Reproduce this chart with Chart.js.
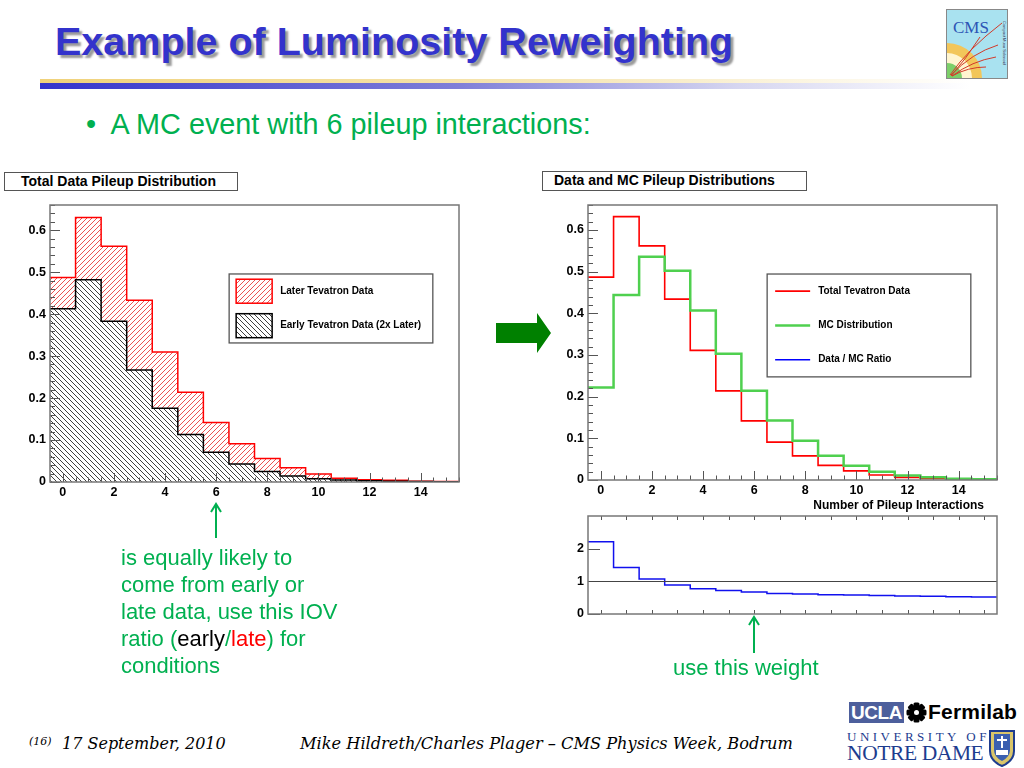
<!DOCTYPE html>
<html>
<head>
<meta charset="utf-8">
<script src="https://cdn.jsdelivr.net/npm/chart.js@4"></script>
<style>
  body { margin: 0; background: #fff; }
  #slide { position: relative; width: 1024px; height: 768px; overflow: hidden; font-family: 'Liberation Sans', Arial, sans-serif; }
  .abs { position: absolute; white-space: nowrap; }
  #title { left: 55px; top: 19px; font: bold 39.5px 'Liberation Sans', Arial, sans-serif; color: #3333cc; text-shadow: 3px 3px 2px #9a9a9a; }
  #barY { left: 40px; top: 79px; width: 930px; height: 4px; background: linear-gradient(to right, #f0d27a, #f6e6b4 55%, rgba(255,255,255,0)); }
  #barB { left: 40px; top: 83px; width: 930px; height: 6px; background: linear-gradient(to right, #3333cc, #7f7fd8 45%, #d6d6f0 75%, rgba(255,255,255,0)); }
  #bullet { left: 86px; top: 108px; font-size: 28.8px; color: #00b050; }
  .boxTitle { border: 1.5px solid #555; font: bold 14px 'Liberation Sans', Arial, sans-serif; color: #000; box-sizing: border-box; line-height: 16px; }
  .note { color: #00b050; font-size: 22px; line-height: 27px; }
  canvas { position: absolute; }
  .foot { font-family: 'DejaVu Serif', serif; font-style: italic; color: #000; }
</style>
</head>
<body>
<div id="slide">
  <div id="title" class="abs">Example of Luminosity Reweighting</div>
  <div id="barY" class="abs"></div>
  <div id="barB" class="abs"></div>
  <svg class="abs" style="left:946px;top:9px" width="62" height="70" viewBox="0 0 62 70">
    <rect x="0.5" y="0.5" width="61" height="69" fill="#a9e2f0" stroke="#888"/>
    <path d="M1 69 L1 34 A35 35 0 0 1 36 69 Z" fill="#f2c65a"/>
    <path d="M1 69 L1 44 A25 25 0 0 1 26 69 Z" fill="#fff5d0"/>
    <path d="M1 69 L1 54 A15 15 0 0 1 16 69 Z" fill="#7ccf6a"/>
    <text x="7" y="24" font-family="Liberation Serif, serif" font-size="17" fill="#2d55b5">CMS</text>
    <g fill="none" stroke="#d23a2a" stroke-width="1">
      <path d="M4 66 Q22 40 56 14"/><path d="M5 66 Q26 44 52 36"/><path d="M6 67 Q26 52 50 48"/><path d="M6 67 Q22 58 40 58"/><path d="M5 67 Q20 50 34 28"/>
    </g>
    <text x="57" y="12" font-size="4" fill="#335" transform="rotate(90 57 12)">Compact Muon Solenoid</text>
  </svg>
  <div id="bullet" class="abs">•&nbsp; A MC event with 6 pileup interactions:</div>

  <div class="abs boxTitle" style="left:4px;top:172px;width:234px;height:19px;padding-left:16px">Total Data Pileup Distribution</div>
  <div class="abs boxTitle" style="left:542px;top:171px;width:265px;height:20px;padding-left:11px;line-height:17px">Data and MC Pileup Distributions</div>

  <canvas id="leftChart" width="470" height="310" style="left:0;top:195px"></canvas>
  <canvas id="rightChart" width="494" height="325" style="left:530px;top:195px"></canvas>
  <canvas id="ratioChart" width="494" height="115" style="left:530px;top:510px"></canvas>

  <!-- big green arrow between the plots -->
  <svg class="abs" style="left:494px;top:311px" width="60" height="44">
    <path d="M2 12 L43 12 L43 2 L57 22 L43 42 L43 32 L2 32 Z" fill="#008000"/>
  </svg>

  <!-- small annotation arrows -->
  <svg class="abs" style="left:208px;top:502px" width="16" height="38">
    <line x1="8" y1="4" x2="8" y2="36" stroke="#00b050" stroke-width="2"/>
    <path d="M3 10 L8 2 L13 10" fill="none" stroke="#00b050" stroke-width="2"/>
  </svg>
  <svg class="abs" style="left:746px;top:615px" width="16" height="40">
    <line x1="8" y1="4" x2="8" y2="38" stroke="#00b050" stroke-width="2"/>
    <path d="M3 10 L8 2 L13 10" fill="none" stroke="#00b050" stroke-width="2"/>
  </svg>

  <div class="abs note" style="left:121px;top:544px">is equally likely to<br>come from early or<br>late data, use this IOV<br>ratio (<span style="color:#000">early</span>/<span style="color:#ff0000">late</span>) for<br>conditions</div>
  <div class="abs note" style="left:673px;top:654px">use this weight</div>

  <!-- footer -->
  <div class="abs foot" style="left:29px;top:735px;font-size:11px">(16)</div>
  <div class="abs foot" style="left:62px;top:734px;font-size:16px">17 September, 2010</div>
  <div class="abs foot" style="left:300px;top:734px;font-size:16.2px">Mike Hildreth/Charles Plager – CMS Physics Week, Bodrum</div>

  <!-- institution logos -->
  <div class="abs" style="left:849px;top:702px;width:55px;height:21px;background:#4d5f9c;color:#fff;font:bold 19px 'Liberation Sans',Arial;line-height:21px;text-align:center;letter-spacing:-0.5px">UCLA</div>
  <svg class="abs" style="left:906px;top:702px" width="21" height="21" viewBox="0 0 21 21">
    <g fill="#000">
      <rect x="7.5" y="0.5" width="6" height="20" rx="1.5"/><rect x="0.5" y="7.5" width="20" height="6" rx="1.5"/>
      <rect x="7.5" y="0.5" width="6" height="20" rx="1.5" transform="rotate(45 10.5 10.5)"/><rect x="0.5" y="7.5" width="20" height="6" rx="1.5" transform="rotate(45 10.5 10.5)"/>
    </g>
    <circle cx="10.5" cy="10.5" r="2.5" fill="#fff"/>
  </svg>
  <div class="abs" style="left:928px;top:700px;font:bold 21px 'Liberation Sans',Arial;color:#000;letter-spacing:0.2px">Fermilab</div>
  <div class="abs" style="left:847px;top:729px;font:13px 'Liberation Serif',serif;color:#1d3c8f;letter-spacing:3.5px">UNIVERSITY OF</div>
  <div class="abs" style="left:847px;top:741px;font:21.5px 'Liberation Serif',serif;color:#1d3c8f;letter-spacing:-0.4px">NOTRE DAME</div>
  <svg class="abs" style="left:988px;top:729px" width="28" height="38" viewBox="0 0 28 38">
    <path d="M2 2 L26 2 L26 22 Q26 32 14 37 Q2 32 2 22 Z" fill="#d9c56a" stroke="#1d3c8f" stroke-width="2"/>
    <path d="M6 5 L22 5 L22 21 Q22 28 14 32 Q6 28 6 21 Z" fill="#3a5fb0"/>
    <rect x="13" y="7" width="2" height="12" fill="#fff"/><rect x="9" y="10" width="10" height="2" fill="#fff"/>
    <rect x="8" y="21" width="12" height="5" fill="#fff"/>
  </svg>
</div>

<script>
'use strict';

// ─── Data ────────────────────────────────────────────────
const binCenters = [0, 1, 2, 3, 4, 5, 6, 7, 8, 9, 10, 11, 12, 13, 14, 15];

const laterData = [0.487, 0.630, 0.562, 0.433, 0.310, 0.214, 0.142, 0.091, 0.056, 0.034, 0.019, 0.009, 0.0055, 0.004, 0.002, 0.001];
const earlyData = [0.413, 0.482, 0.383, 0.267, 0.176, 0.113, 0.071, 0.043, 0.025, 0.014, 0.008, 0.005, 0.003, 0.002, 0.001, 0.0005];

const totalData = [0.487, 0.632, 0.562, 0.434, 0.311, 0.214, 0.142, 0.091, 0.058, 0.035, 0.022, 0.012, 0.0064, 0.004, 0.0024, 0.001];
const mcData    = [0.222, 0.444, 0.536, 0.502, 0.407, 0.303, 0.214, 0.143, 0.094, 0.058, 0.034, 0.020, 0.011, 0.0064, 0.0032, 0.0016];
const ratioData = [2.21, 1.42, 1.07, 0.89, 0.77, 0.72, 0.67, 0.63, 0.61, 0.59, 0.58, 0.57, 0.55, 0.54, 0.53, 0.52];

const xTickLabels = [0, 2, 4, 6, 8, 10, 12, 14];
const yTickLabels = [0, 0.1, 0.2, 0.3, 0.4, 0.5, 0.6];
const ratioTickLabels = [0, 1, 2];

const LABEL_LATER = 'Later Tevatron Data';
const LABEL_EARLY = 'Early Tevatron Data (2x Later)';
const LABEL_TOTAL = 'Total Tevatron Data';
const LABEL_MC = 'MC Distribution';
const LABEL_RATIO = 'Data / MC Ratio';
const X_TITLE = 'Number of Pileup Interactions';

// ─── Helpers ─────────────────────────────────────────────
// histogram outline: one point per lower bin edge, plus the last upper edge
function histPoints(vals) {
  const pts = binCenters.map((c, i) => ({ x: c - 0.5, y: vals[i] }));
  pts.push({ x: binCenters[binCenters.length - 1] + 0.5, y: vals[vals.length - 1] });
  return pts;
}

// ROOT-like hatch fill
function hatch(color, forward) {
  const s = 5;
  const c = document.createElement('canvas');
  c.width = c.height = s;
  const g = c.getContext('2d');
  g.fillStyle = '#fff';
  g.fillRect(0, 0, s, s);
  g.strokeStyle = color;
  g.lineWidth = 0.9;
  g.beginPath();
  for (const o of [-s, 0, s]) {
    if (forward) { g.moveTo(o - 1, s + 1); g.lineTo(o + s + 1, -1); }
    else { g.moveTo(o - 1, -1); g.lineTo(o + s + 1, s + 1); }
  }
  g.stroke();
  return g.createPattern(c, 'repeat');
}

const redHatch = hatch('rgba(225,0,0,0.75)', true);
const blackHatch = hatch('#2a2a2a', false);

// ─── Plugins: frame + inward ticks, legend box ───────────
// (configs are closed over, not passed through chart options)
function rootAxes(cfg) {
  return {
    id: 'rootAxes',
    afterDatasetsDraw(chart) {
      const { ctx, chartArea: a, scales: { x, y } } = chart;
      ctx.save();
      ctx.strokeStyle = '#555';
      ctx.lineWidth = 1;
      (cfg.xTicks || []).forEach(t => {
        const n = Math.round((t.to - t.from) / t.step);
        for (let k = 0; k <= n; k++) {
          const px = Math.round(x.getPixelForValue(t.from + k * t.step)) + 0.5;
          ctx.beginPath();
          if (t.side === 'top') { ctx.moveTo(px, a.top); ctx.lineTo(px, a.top + t.len); }
          else { ctx.moveTo(px, a.bottom); ctx.lineTo(px, a.bottom - t.len); }
          ctx.stroke();
        }
      });
      (cfg.yTicks || []).forEach(t => {
        const n = Math.round((t.to - t.from) / t.step);
        for (let k = 0; k <= n; k++) {
          const py = Math.round(y.getPixelForValue(t.from + k * t.step)) + 0.5;
          ctx.beginPath();
          ctx.moveTo(a.left, py);
          ctx.lineTo(a.left + t.len, py);
          ctx.stroke();
        }
      });
      if (cfg.unityLine) {
        const py = Math.round(y.getPixelForValue(1)) + 0.5;
        ctx.strokeStyle = '#444';
        ctx.beginPath(); ctx.moveTo(a.left, py); ctx.lineTo(a.right, py); ctx.stroke();
      }
      if (cfg.xTitle) {
        ctx.fillStyle = '#000';
        ctx.font = "bold 12px 'Liberation Sans', Arial, sans-serif";
        ctx.textAlign = 'right';
        ctx.textBaseline = 'middle';
        ctx.fillText(cfg.xTitle, a.right - 13, a.bottom + 26);
      }
      ctx.strokeStyle = '#777';
      ctx.lineWidth = 1.5;
      ctx.strokeRect(a.left, a.top, a.width, a.height);
      ctx.restore();
    },
  };
}

function rootLegend(cfg) {
  return {
    id: 'rootLegend',
    afterDraw(chart) {
      const { ctx, chartArea: a } = chart;
      const x0 = a.left + cfg.box[0] * a.width, x1 = a.left + cfg.box[1] * a.width;
      const y0 = a.top + cfg.box[2] * a.height, y1 = a.top + cfg.box[3] * a.height;
      ctx.save();
      ctx.fillStyle = '#fff';
      ctx.fillRect(x0, y0, x1 - x0, y1 - y0);
      ctx.strokeStyle = '#555';
      ctx.lineWidth = 1.3;
      ctx.strokeRect(x0, y0, x1 - x0, y1 - y0);
      const rowH = (y1 - y0) / cfg.items.length;
      cfg.items.forEach((it, i) => {
        const cy = y0 + rowH * (i + 0.5);
        if (it.swatch === 'box') {
          ctx.fillStyle = it.pattern;
          ctx.fillRect(x0 + 7, cy - 12, 36, 24);
          ctx.strokeStyle = it.color;
          ctx.lineWidth = 1.5;
          ctx.strokeRect(x0 + 7, cy - 12, 36, 24);
        } else {
          ctx.strokeStyle = it.color;
          ctx.lineWidth = it.lw;
          ctx.beginPath(); ctx.moveTo(x0 + 8, cy); ctx.lineTo(x0 + 43, cy); ctx.stroke();
        }
        ctx.fillStyle = '#000';
        ctx.font = "bold 10px 'Liberation Sans', Arial, sans-serif";
        ctx.textBaseline = 'middle';
        ctx.fillText(it.label, x0 + 51, cy);
      });
      ctx.restore();
    },
  };
}

// ─── Shared scale builders ───────────────────────────────
const tickFont = { family: "'Liberation Sans', Arial, sans-serif", size: 12.5, weight: 'bold' };

function noPad(s) { s.paddingTop = 0; s.paddingBottom = 0; s.paddingLeft = 0; s.paddingRight = 0; }

function xScale(height, showLabels) {
  return {
    type: 'linear', min: -0.5, max: 15.5,
    afterBuildTicks: s => { s.ticks = xTickLabels.map(v => ({ value: v })); },
    afterFit: s => { s.height = height; noPad(s); },
    grid: { display: false, drawTicks: false },
    border: { display: false },
    ticks: { display: showLabels, font: tickFont, color: '#000', padding: 3, maxRotation: 0, autoSkip: false },
  };
}

function yScale(width, max, labels) {
  return {
    min: 0, max: max,
    afterBuildTicks: s => { s.ticks = labels.map(v => ({ value: v })); },
    afterFit: s => { s.width = width; noPad(s); },
    grid: { display: false, drawTicks: false },
    border: { display: false },
    ticks: { font: tickFont, color: '#000', padding: 4, callback: v => String(v) },
  };
}

const mainTicks = {
  xTicks: [
    { from: 0, to: 15.5, step: 0.5, len: 4.5, side: 'bottom' },
    { from: 0, to: 14, step: 2, len: 9, side: 'bottom' },
  ],
  yTicks: [
    { from: 0, to: 0.66, step: 0.02, len: 5 },
    { from: 0, to: 0.6, step: 0.1, len: 10 },
  ],
};

const baseOpts = {
  responsive: false,
  animation: false,
  devicePixelRatio: 1,
  elements: { point: { radius: 0 } },
};

// ─── Left: total data pileup (hatched) ───────────────────
new Chart(document.getElementById('leftChart'), {
  type: 'line',
  data: {
    datasets: [
      { label: LABEL_EARLY, data: histPoints(earlyData), stepped: true, borderColor: '#000', borderWidth: 1.5, backgroundColor: blackHatch, fill: 'origin', order: 0 },
      { label: LABEL_LATER, data: histPoints(laterData), stepped: true, borderColor: '#ff0000', borderWidth: 1.5, backgroundColor: redHatch, fill: 'origin', order: 1 },
    ],
  },
  options: {
    ...baseOpts,
    layout: { padding: { top: 10, right: 11, left: 0, bottom: 0 } },
    scales: { x: xScale(23, true), y: yScale(50, 0.66, yTickLabels) },
    plugins: { legend: { display: false }, tooltip: { enabled: false } },
  },
  plugins: [
    rootAxes(mainTicks),
    rootLegend({
      box: [0.438, 0.936, 0.249, 0.498],
      items: [
        { label: LABEL_LATER, swatch: 'box', color: '#ff0000', pattern: redHatch },
        { label: LABEL_EARLY, swatch: 'box', color: '#000', pattern: blackHatch },
      ],
    }),
  ],
});

// ─── Right: data vs MC ───────────────────────────────────
new Chart(document.getElementById('rightChart'), {
  type: 'line',
  data: {
    datasets: [
      { label: LABEL_MC, data: histPoints(mcData), stepped: true, borderColor: '#4fd04f', borderWidth: 2.5, fill: false, order: 0 },
      { label: LABEL_TOTAL, data: histPoints(totalData), stepped: true, borderColor: '#ff0000', borderWidth: 1.6, fill: false, order: 1 },
    ],
  },
  options: {
    ...baseOpts,
    layout: { padding: { top: 10, right: 27, left: 0, bottom: 0 } },
    scales: { x: xScale(40, true), y: yScale(58, 0.66, yTickLabels) },
    plugins: { legend: { display: false }, tooltip: { enabled: false } },
  },
  plugins: [
    rootAxes({ ...mainTicks, xTitle: X_TITLE }),
    rootLegend({
      box: [0.438, 0.936, 0.251, 0.625],
      items: [
        { label: LABEL_TOTAL, swatch: 'line', color: '#ff0000', lw: 1.6 },
        { label: LABEL_MC, swatch: 'line', color: '#4fd04f', lw: 2.5 },
        { label: LABEL_RATIO, swatch: 'line', color: '#0000ff', lw: 1.5 },
      ],
    }),
  ],
});

// ─── Bottom right: data / MC ratio ───────────────────────
new Chart(document.getElementById('ratioChart'), {
  type: 'line',
  data: {
    datasets: [
      { label: LABEL_RATIO, data: histPoints(ratioData), stepped: true, borderColor: '#1010ee', borderWidth: 1.5, fill: false },
    ],
  },
  options: {
    ...baseOpts,
    layout: { padding: { top: 6, right: 27, left: 0, bottom: 0 } },
    scales: { x: xScale(11, false), y: yScale(58, 3, ratioTickLabels) },
    plugins: { legend: { display: false }, tooltip: { enabled: false } },
  },
  plugins: [
    rootAxes({
      xTicks: [
        { from: 0, to: 15, step: 1, len: 4, side: 'bottom' },
        { from: 0, to: 15, step: 1, len: 4, side: 'top' },
      ],
      yTicks: [{ from: 0, to: 2, step: 1, len: 12 }],
      unityLine: true,
    }),
  ],
});
</script>
</body>
</html>
